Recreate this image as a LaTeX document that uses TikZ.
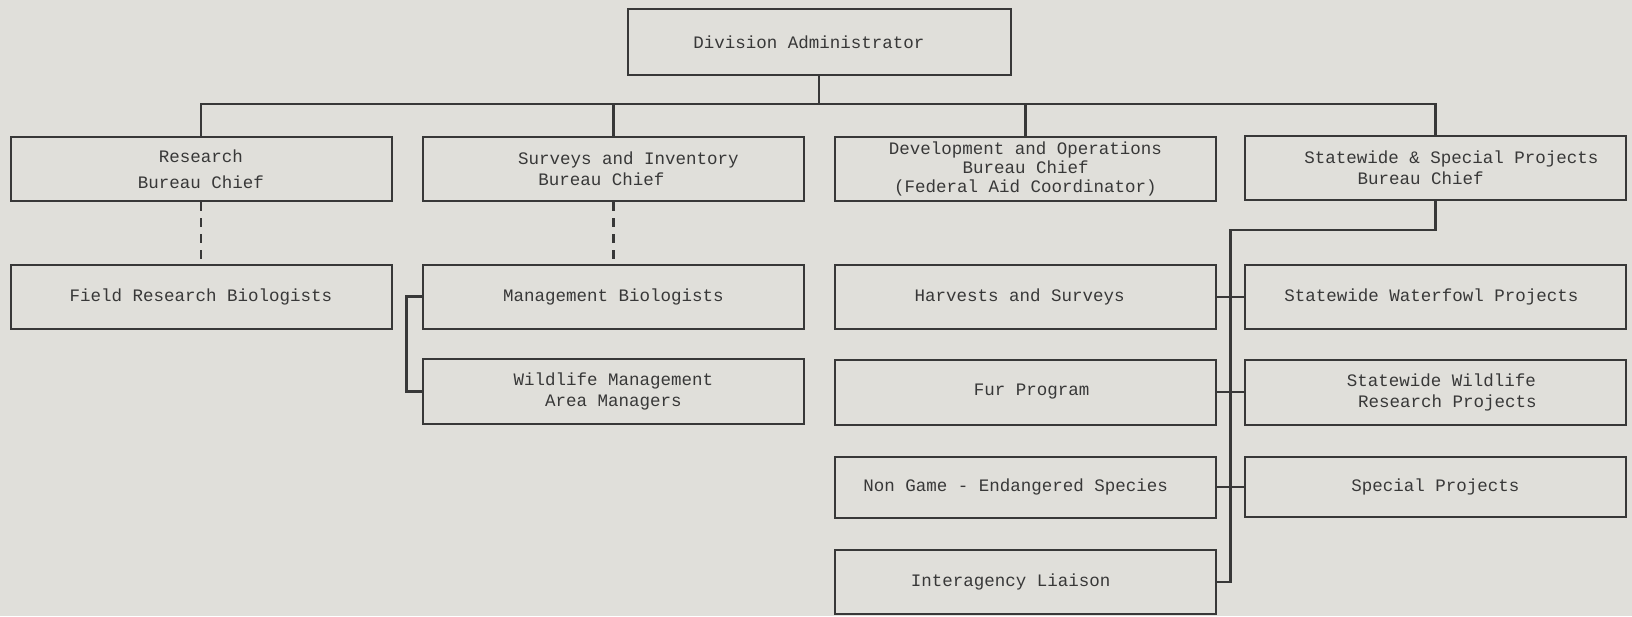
\documentclass[tikz,border=0pt]{standalone}
\usepackage{fontspec}
\setmonofont{Liberation Mono}
\definecolor{paper}{HTML}{E0DFDA}
\definecolor{ink}{HTML}{383838}
\begin{document}
\begin{tikzpicture}[x=0.5pt,y=-0.5pt,
  every node/.style={font=\ttfamily\fontsize{8.75}{10.5}\selectfont, text=ink},
  box/.style={draw=ink, line width=1pt, rectangle, inner sep=0pt,
    minimum width=190.5pt, minimum height=32pt, align=center},
  link/.style={draw=ink, line width=1.1pt},
  dashlink/.style={link, dash pattern=on 4.5pt off 3.5pt}]
\fill[paper] (0,0) rectangle (1632,616);
\useasboundingbox (0,0) rectangle (1632,616);

% top
\node[box, minimum width=191.5pt, minimum height=33pt] (div) at (819,42) {Division Administrator\hspace*{10pt}};

% bureau chiefs
\node[box] (res) at (201,169) {Research\\[2.5pt]Bureau Chief};
\node[box] (sur) at (613.5,169) {\hspace*{15pt}Surveys and Inventory\\Bureau Chief\hspace*{12pt}};
\node[box, font=\ttfamily\fontsize{8.75}{9.3}\selectfont] (dev) at (1025.5,169) {Development and Operations\\Bureau Chief\\(Federal Aid Coordinator)};
\node[box] (sw) at (1435.5,168) {\hspace*{16pt}Statewide \& Special Projects\\Bureau Chief\hspace*{15pt}};

% research and surveys staff
\node[box] (fr) at (201,296.5) {Field Research Biologists};
\node[box] (mb) at (613.5,296.5) {Management Biologists};
\node[box, minimum height=32.5pt] (wm) at (613.5,391.5) {Wildlife Management\\Area Managers};

% programs
\node[box] (hv) at (1025.7,296.7) {Harvests and Surveys\hspace*{6pt}};
\node[box, minimum height=32.5pt] (fur) at (1025.7,392) {\hspace*{6pt}Fur Program};
\node[box, minimum height=30.5pt] (ng) at (1025.7,487) {Non Game - Endangered Species\hspace*{10pt}};
\node[box] (ia) at (1025.7,582) {Interagency Liaison\hspace*{15pt}};

\node[box] (wf) at (1435.3,296.7) {Statewide Waterfowl Projects\hspace*{4pt}};
\node[box, minimum height=32.5pt] (swr) at (1435.3,392) {\hspace*{6pt}Statewide Wildlife\\\hspace*{12pt}Research Projects};
\node[box, minimum height=30pt] (sp) at (1435.3,487) {Special Projects};

% bus under the administrator
\coordinate (bus) at (819,104.3);
\draw[link] (div.south) -- (div.south |- bus);
\draw[link] (res.north) -- (res.north |- bus) -- (sw.north |- bus) -- (sw.north);
\draw[link] (sur.north) -- (sur.north |- bus);
\draw[link] (dev.north) -- (dev.north |- bus);

% dashed lines of supervision
\draw[dashlink] (res.south) -- (fr.north);
\draw[dashlink] (sur.south) -- (mb.north);

% survey staff bracket
\draw[link] (mb.west) -- ++(-15.5,0) |- (wm.west);

% statewide spine
\coordinate (spine) at (1230.5,230);
\draw[link] (sw.south) |- (spine) -- (spine |- ia.east) -- (ia.east);
\draw[link] (hv.east) -- (wf.west);
\draw[link] (fur.east) -- (swr.west);
\draw[link] (ng.east) -- (sp.west);
\end{tikzpicture}
\end{document}
